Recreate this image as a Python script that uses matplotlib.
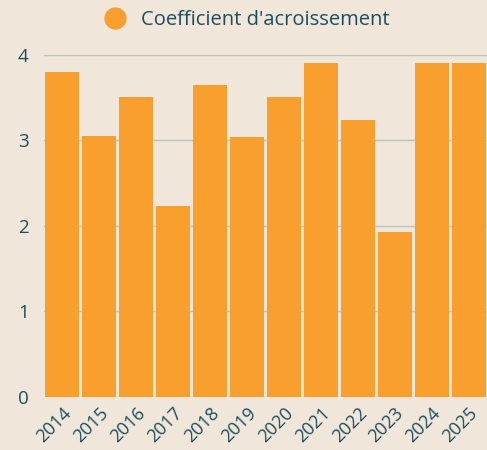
#!/usr/bin/env python3

import matplotlib
matplotlib.use("Agg")
import matplotlib.pyplot as plt
from matplotlib.lines import Line2D

years = ["2014", "2015", "2016", "2017", "2018", "2019",
         "2020", "2021", "2022", "2023", "2024", "2025"]
coef = [3.80, 3.05, 3.51, 2.23, 3.65, 3.04, 3.51, 3.91, 3.24, 1.93, 3.91, 3.91]
yticks = [0, 1, 2, 3, 4]
series_name = "Coefficient d'acroissement"

bg = "#f0e6d9"
bar_col = "#f89f2e"
txt = "#1d4e5f"

plt.rcParams['font.family'] = ['Open Sans', 'DejaVu Sans']

fig = plt.figure(figsize=(4.87, 4.5), dpi=100, facecolor=bg)
ax = fig.add_axes([0.0903, 0.1178, 0.9097, 0.7602])
ax.set_facecolor(bg)

x = range(len(years))
ax.bar(x, coef, width=0.92, color=bar_col, edgecolor="none", zorder=3)

ax.set_xlim(-0.5, len(years) - 0.5)
ax.set_ylim(0, 4)
ax.set_yticks(yticks)
ax.set_yticklabels([str(v) for v in yticks])
ax.set_xticks(list(x))
ax.set_xticklabels(years, rotation=45, ha="right", rotation_mode="anchor")
ax.grid(axis="y", color="#b8c4bd", linewidth=1, zorder=0)
ax.tick_params(axis="both", length=0, colors=txt, labelsize=13.5)
ax.tick_params(axis="y", pad=11)
ax.tick_params(axis="x", pad=5, labelsize=13)
for s in ax.spines.values():
    s.set_visible(False)

handle = Line2D([], [], marker="o", linestyle="none", markersize=15,
                markerfacecolor=bar_col, markeredgecolor=bar_col)
fig.legend([handle], [series_name], loc="center", bbox_to_anchor=(0.498, 0.955),
           frameon=False, fontsize=14.5, labelcolor=txt, handletextpad=0.3,
           borderaxespad=0)

fig.savefig("out.png", dpi=100, facecolor=bg)
